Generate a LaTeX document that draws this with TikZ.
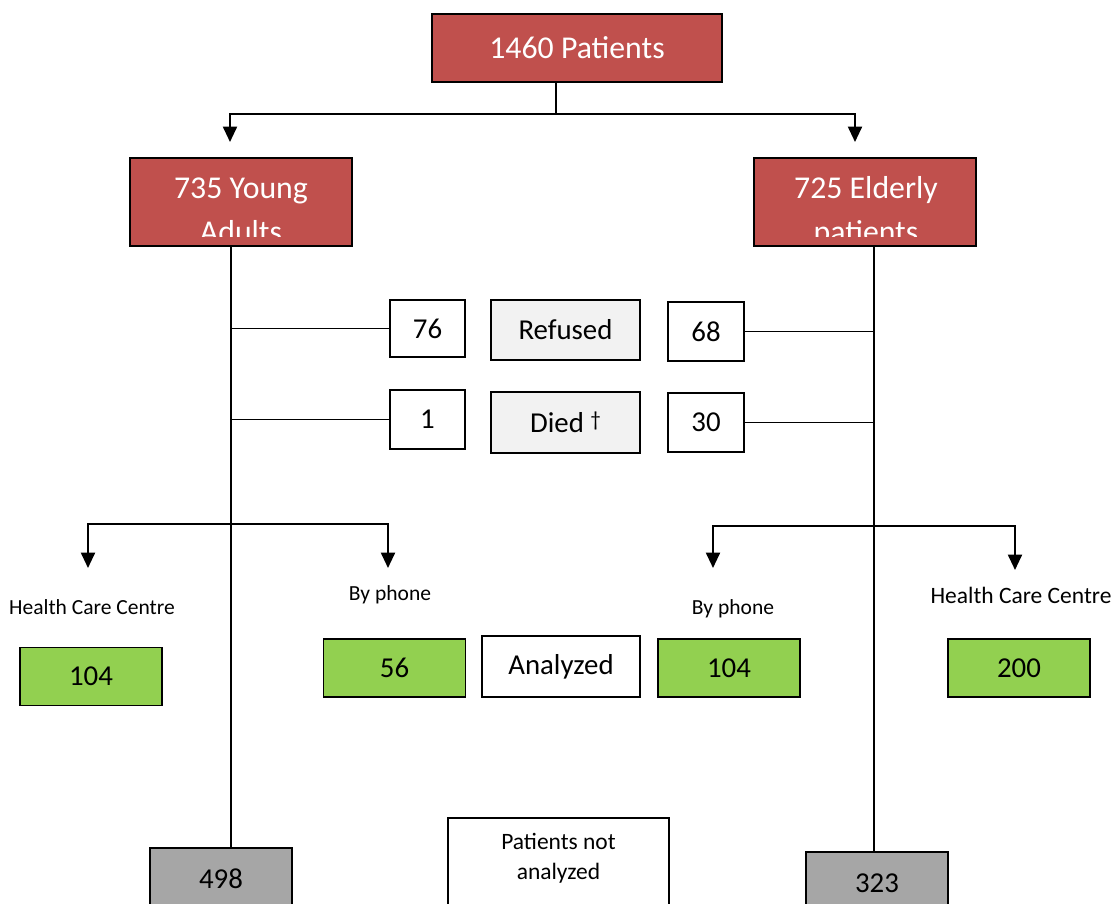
\documentclass[tikz,border=0pt]{standalone}
\usepackage{fontspec}
\setmainfont{Carlito}
\usetikzlibrary{arrows.meta}
\definecolor{boxred}{HTML}{C0504D}
\definecolor{boxgreen}{HTML}{92D050}
\definecolor{boxgray}{HTML}{A6A6A6}
\definecolor{boxlight}{HTML}{F2F2F2}

\begin{document}
\begin{tikzpicture}[x=0.025cm, y=-0.025cm,
  box/.style={draw, line width=1.2pt, inner sep=0pt, align=center},
  redbox/.style={box, fill=boxred, text=white, font=\fontsize{22.6}{27}\selectfont},
  redtext/.style={text=white, inner sep=0pt, font=\fontsize{22.6}{27}\selectfont},
  numbox/.style={box, font=\fontsize{20.5}{24}\selectfont},
  greenbox/.style={numbox, fill=boxgreen, minimum width=3.55cm, minimum height=1.45cm},
  graybox/.style={numbox, fill=boxgray, minimum width=3.55cm, minimum height=1.55cm},
  way/.style={inner sep=0pt, font=\fontsize{15.3}{18}\selectfont},
  trunk/.style={line width=1.3pt},
  arr/.style={-{Triangle[length=11pt, width=10pt]}, line width=1.5pt}
]
\useasboundingbox (0,0) rectangle (1119,903);
\clip (0,0) rectangle (1119,903);

\node[redbox, minimum width=7.25cm, minimum height=1.7cm] (top) at (577,48) {1460 Patients};
\node[redbox, minimum width=5.55cm, minimum height=2.2cm] (young) at (241,202) {};
\node[redbox, minimum width=5.55cm, minimum height=2.2cm] (elder) at (865,202) {};
\begin{scope}
  \clip (young.north west) rectangle ([yshift=0.25cm]young.south east);
  \node[redtext, anchor=base] (youngtop) at (241,198) {735 Young};
  \node[redtext, anchor=base] (youngbot) at (241,242) {Adults};
\end{scope}
\begin{scope}
  \clip (elder.north west) rectangle ([yshift=0.25cm]elder.south east);
  \node[redtext, anchor=base] (eldertop) at (866,198) {725 Elderly};
  \node[redtext, anchor=base] (elderbot) at (866,242) {patients};
\end{scope}

\node[numbox, minimum width=1.875cm, minimum height=1.425cm] (n76) at (427.5,328.5) {76};
\node[numbox, fill=boxlight, minimum width=3.725cm, minimum height=1.5cm] (refused) at (565.5,330) {Refused};
\node[numbox, minimum width=1.9cm, minimum height=1.475cm] (n68) at (706,331.5) {68};
\node[numbox, minimum width=1.875cm, minimum height=1.475cm] (n1) at (427.5,419.5) {1};
\node[numbox, fill=boxlight, minimum width=3.725cm, minimum height=1.525cm] (died) at (565.5,422.5)
  {Died {\fontsize{15}{18}\selectfont\raisebox{0.3em}{†}}};
\node[numbox, minimum width=1.9cm, minimum height=1.475cm] (n30) at (706,422.5) {30};

\node[way] (yhcclab) at (92,607) {Health Care Centre};
\node[way] (yphonelab) at (390,595) {By phone};
\node[way] (ephonelab) at (733,609) {By phone};
\node[way, font=\fontsize{16.7}{20}\selectfont] (ehcclab) at (1021,595) {Health Care Centre};

\node[greenbox] (yhcc) at (91,676.5) {104};
\node[greenbox] (yphone) at (394.5,668) {56};
\node[numbox, minimum width=3.95cm, minimum height=1.525cm] (analyzed) at (561,666.5) {Analyzed};
\node[greenbox] (ephone) at (729,668) {104};
\node[greenbox] (ehcc) at (1019,668) {200};

\node[graybox] (ylost) at (221,879) {498};
\node[graybox] (elost) at (877,883) {323};
\node[box, minimum width=5.525cm, minimum height=2.5cm, anchor=north] (notan) at (558.5,817) {};
\node[align=center, inner sep=0pt, font=\fontsize{16.7}{21.3}\selectfont] (notantext) at (558.5,858) {Patients not\\analyzed};

\coordinate (ytrunk) at (231,0);
\coordinate (etrunk) at (874,0);
\coordinate (topfork) at (556,114);
\coordinate (youngin) at (230,142);
\coordinate (elderin) at (855,142);
\coordinate (yfork) at (231,524);
\coordinate (yhccin) at (88,568);
\coordinate (yphonein) at (388,568);
\coordinate (efork) at (874,526);
\coordinate (ephonein) at (713,568);
\coordinate (ehccin) at (1015,570);

\draw[arr] (top.south -| topfork) -- (topfork) -| (youngin);
\draw[arr] (topfork) -| (elderin);
\draw[trunk] (young.south -| ytrunk) -- (ylost.north -| ytrunk);
\draw[trunk] (elder.south -| etrunk) -- (elost.north -| etrunk);
\draw[trunk] (n76.west) -- (n76.west -| ytrunk);
\draw[trunk] (n1.west) -- (n1.west -| ytrunk);
\draw[trunk] (n68.east) -- (n68.east -| etrunk);
\draw[trunk] (n30.east) -- (n30.east -| etrunk);
\draw[arr] (yfork) -| (yhccin);
\draw[arr] (yfork) -| (yphonein);
\draw[arr] (efork) -| (ephonein);
\draw[arr] (efork) -| (ehccin);
\end{tikzpicture}
\end{document}
